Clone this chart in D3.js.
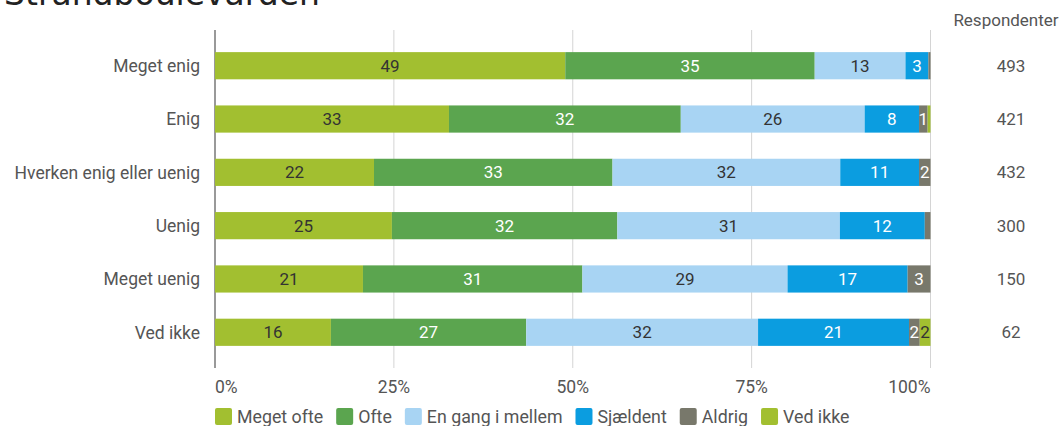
<!DOCTYPE html>
<html><head><meta charset="utf-8">
<script src="https://cdn.jsdelivr.net/npm/d3@7"></script>
<style>
body{margin:0;background:#fff;}
svg{display:block;font-family:Roboto,sans-serif;}
</style></head>
<body><svg id="c" width="1063" height="426"></svg>
<script>
const title = "Strandboulevarden";
const categories = ["Meget enig","Enig","Hverken enig eller uenig","Uenig","Meget uenig","Ved ikke"];
const seriesNames = ["Meget ofte","Ofte","En gang i mellem","Sjældent","Aldrig","Ved ikke"];
const megetOfte = [49.0,32.7,22.2,24.8,20.7,16.2];
const ofte      = [34.9,32.4,33.3,31.6,30.7,27.3];
const enGang    = [12.7,25.7,31.8,31.2,28.7,32.4];
const sjaeldent = [3.2,7.6,11.0,11.9,16.8,21.1];
const aldrig    = [0.3,1.2,1.6,0.8,3.2,1.5];
const vedIkke   = [0,0.4,0,0,0,1.5];
const respondenter = [493,421,432,300,150,62];
const tickValues = [0,0.25,0.5,0.75,1];
const tickLabels = ["0%","25%","50%","75%","100%"];
const colors = ["#a2bf30","#5ba54f","#a8d4f3","#0b9de0","#78786b","#a2bf30"];
const textColors = ["#333","#fff","#333","#fff","#fff","#333"];

const seriesData = [megetOfte,ofte,enGang,sjaeldent,aldrig,vedIkke];
const rows = categories.map((c,i)=>{const o={cat:c}; seriesNames.forEach((s,j)=>o[s]=seriesData[j][i]); return o;});

const svg = d3.select("#c");
const x = d3.scaleLinear().domain([0,1]).range([215,930.5]);
const y = d3.scaleBand().domain(categories).range([26,372]).padding(0.49);

svg.append("text").attr("x",4).attr("y",5).attr("font-family","DejaVu Sans").attr("font-size",33).attr("fill","#222").text(title);

// gridlines
const g = svg.append("g");
g.selectAll("line.grid").data(tickValues).join("line")
  .attr("x1",d=>x(d)).attr("x2",d=>x(d)).attr("y1",30).attr("y2",368)
  .attr("stroke",(d,i)=>i===0?"#999":"#d4d4d4").attr("stroke-width",(d,i)=>i===0?2:1);

const stack = d3.stack().keys(seriesNames).offset(d3.stackOffsetExpand);
const stacked = stack(rows);
stacked.forEach((layer,si)=>{
  const gl = svg.append("g");
  gl.selectAll("rect").data(layer).join("rect")
    .attr("x",d=>x(d[0])).attr("width",d=>Math.max(0,x(d[1])-x(d[0])))
    .attr("y",d=>y(d.data.cat)).attr("height",y.bandwidth())
    .attr("fill",colors[si]);
  gl.selectAll("text").data(layer.filter(d=>x(d[1])-x(d[0])>=8)).join("text")
    .attr("x",d=>(x(d[0])+x(d[1]))/2).attr("y",d=>y(d.data.cat)+y.bandwidth()/2)
    .attr("dy","0.36em").attr("text-anchor","middle").attr("font-size",17)
    .attr("fill",textColors[si]).text(d=>Math.round(d.data[seriesNames[si]]));
});

// category labels
svg.append("g").selectAll("text").data(categories).join("text")
  .attr("x",200).attr("y",d=>y(d)+y.bandwidth()/2).attr("dy","0.36em")
  .attr("text-anchor","end").attr("font-size",17.5).attr("fill","#555").text(d=>d);

// respondenter
svg.append("text").attr("x",1006).attr("y",20).attr("dy","0.36em").attr("text-anchor","middle")
  .attr("font-size",17).attr("fill","#555").text("Respondenter");
svg.append("g").selectAll("text").data(categories).join("text")
  .attr("x",1011).attr("y",d=>y(d)+y.bandwidth()/2).attr("dy","0.36em")
  .attr("text-anchor","middle").attr("font-size",17).attr("fill","#555").text((d,i)=>respondenter[i]);

// axis tick labels
svg.append("g").selectAll("text").data(tickValues).join("text")
  .attr("x",d=>x(d)).attr("y",387).attr("dy","0.36em")
  .attr("text-anchor",(d,i)=>i===0?"start":(i===tickValues.length-1?"end":"middle"))
  .attr("font-size",17.5).attr("fill","#555").text((d,i)=>tickLabels[i]);

// legend
const lg = svg.append("g");
let lx = 215;
seriesNames.forEach((s,i)=>{
  lg.append("rect").attr("x",lx).attr("y",408).attr("width",17).attr("height",17).attr("rx",2).attr("fill",colors[i]);
  const t = lg.append("text").attr("x",lx+22).attr("y",417).attr("dy","0.36em").attr("font-size",17.8).attr("fill","#555").text(s);
  lx += 22 + t.node().getComputedTextLength() + 13;
});
</script></body></html>
